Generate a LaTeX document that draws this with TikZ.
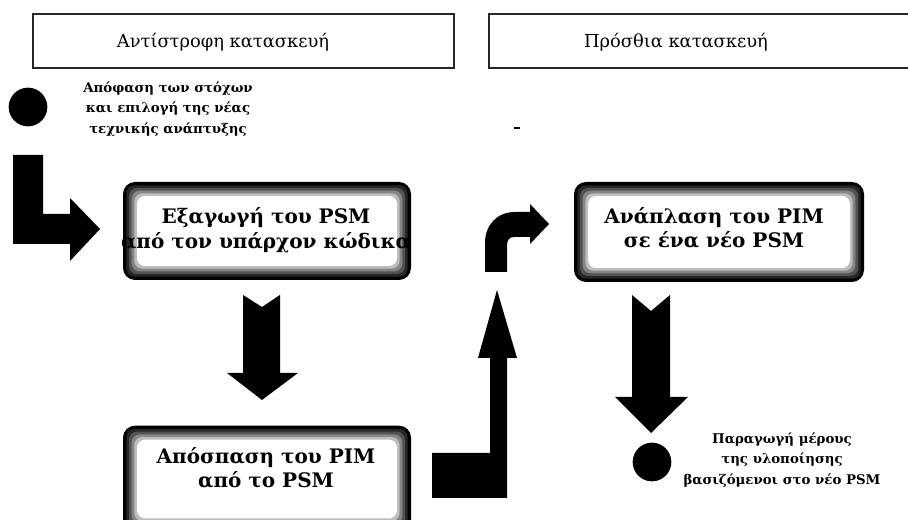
\documentclass[tikz,border=0pt]{standalone}
\usepackage{fontspec}
\setmainfont{DejaVu Serif}
\begin{document}
\begin{tikzpicture}[x=0.75pt,y=-0.75pt,
  hdr/.style={font=\fontsize{13.4pt}{16pt}\selectfont, inner sep=0},
  note/.style={font=\bfseries\fontsize{10pt}{15.5pt}\selectfont, align=center, inner sep=0},
  boxtxt/.style={font=\bfseries\fontsize{15pt}{18.5pt}\selectfont, align=center, inner sep=0},
  hframe/.style={draw=black!85, line width=0.9pt},
  blk/.style={fill=black},
  dot/.style={circle, fill=black, inner sep=0, minimum size=29pt},
  gbox/.style={rounded corners=9pt, fill=black, inner sep=0,
    path picture={
      \foreach \d/\c in {2.5/85,4.5/68,6.5/48,8.5/26,10.5/0}{
        \fill[black!\c, rounded corners=6pt]
          ([shift={(\d pt,\d pt)}]path picture bounding box.south west) rectangle
          ([shift={(-\d pt,-\d pt)}]path picture bounding box.north east);
      }
    }}]
\useasboundingbox (0,0) rectangle (908,520);
\clip (0,0) rectangle (908,520);

% headers
\draw[hframe] (33,14) rectangle (454,68);
\draw[hframe] (489,14) rectangle (930,68);
\node[hdr] (h1) at (223,42) {Αντίστροφη κατασκευή};
\node[hdr] (h2) at (676,42) {Πρόσθια κατασκευή};

% start
\node[dot] (start) at (28,107) {};
\node[note] (n1) at (168,109) {Απόφαση των στόχων\\και επιλογή της νέας\\τεχνικής ανάπτυξης};

% boxes
\node[gbox, minimum width=216pt, minimum height=73.5pt] (b1) at (267,231) {};
\node[gbox, minimum width=216pt, minimum height=80pt] (b2) at (267,479) {};
\node[gbox, minimum width=217.5pt, minimum height=75pt] (b3) at (719,232) {};
\node[boxtxt] (t1) at (266,230) {Εξαγωγή του PSM\\από τον υπάρχον κώδικα};
\node[boxtxt] (t2) at (266,468) {Απόσπαση του PIM\\από το PSM};
\node[boxtxt] (t3) at (714,228) {Ανάπλαση του PIM\\σε ένα νέο PSM};

% end
\node[dot] (end) at (652,462) {};
\node[note] (n2) at (782,460) {Παραγωγή μέρους\\της υλοποίησης\\βασιζόμενοι στο νέο PSM};

% block arrows
\fill[blk] (13,155) -- (43,155) -- (43,214) -- (70,214) -- (70,198) -- (100,229)
  -- (70,261) -- (70,244) -- (13,244) -- cycle;
\fill[blk] (243,295) -- (262,307) -- (280,295) -- (280,373) -- (298,373) -- (262,400)
  -- (227,373) -- (243,373) -- cycle;
\fill[blk] (632,295) -- (651,311) -- (670,295) -- (670,397) -- (688,397) -- (651,433)
  -- (615,397) -- (632,397) -- cycle;
\fill[blk] (432,453) -- (490,453) -- (490,358) -- (478,358) -- (497,290) -- (517,358)
  -- (507,358) -- (507,498) -- (432,498) -- cycle;
\fill[blk] (485,272) -- (485,243) .. controls (485,225) and (497,212) .. (515,212)
  -- (530,212) -- (530,204) -- (549,224) -- (530,244) -- (530,237) -- (514,237)
  .. controls (509,237) and (507,240) .. (507,246) -- (507,272) -- cycle;

% small mark
\fill[blk] (514,127) rectangle (520,129.5);
\end{tikzpicture}
\end{document}
